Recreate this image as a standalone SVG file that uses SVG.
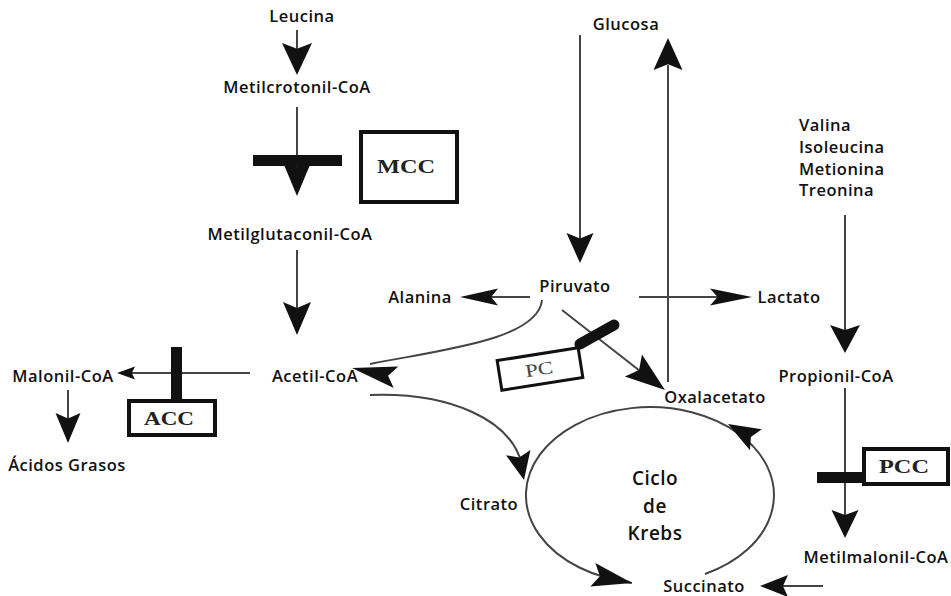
<svg xmlns="http://www.w3.org/2000/svg" width="951" height="596" viewBox="0 0 951 596">
<style>
.t{font-family:"Open Sans","Noto Sans",sans-serif;font-size:16.5px;font-weight:600;letter-spacing:0.5px;fill:#111}
.m{text-anchor:middle}
.k{font-size:19px}
.e{font-family:"Liberation Serif","Times New Roman",serif;font-weight:bold;font-size:18px;fill:#222;text-anchor:middle}
.pc{font-family:"Liberation Serif",serif;font-size:18px;fill:#444;text-anchor:middle}
.ln{stroke:#444;stroke-width:2;fill:none}
.bx{fill:#fff;stroke:#111;stroke-width:4}
.bar{fill:#111}
.ah{fill:#111}
</style>
<defs>
<path id="ah" d="M0,0 L-1,-0.5 L-0.82,0 L-1,0.5 Z"/>
</defs>
<rect width="951" height="596" fill="#fff"/>
<g id="connectors">
<line class="ln" x1="297" y1="30" x2="297" y2="55"/>
<line class="ln" x1="297" y1="107" x2="297" y2="172"/>
<line class="ln" x1="297" y1="250" x2="297" y2="310"/>
<line class="ln" x1="250" y1="373" x2="125" y2="373"/>
<line class="ln" x1="68" y1="390" x2="68" y2="420"/>
<line class="ln" x1="580" y1="35" x2="580" y2="240"/>
<line class="ln" x1="668" y1="382" x2="668" y2="65"/>
<line class="ln" x1="530" y1="297" x2="490" y2="297"/>
<line class="ln" x1="639" y1="297" x2="720" y2="297"/>
<line class="ln" x1="562" y1="310" x2="640" y2="371"/>
<line class="ln" x1="845" y1="215" x2="845" y2="330"/>
<line class="ln" x1="845" y1="388" x2="845" y2="515"/>
<line class="ln" x1="823" y1="586" x2="780" y2="586"/>
<path class="ln" d="M542,300 C538,340 440,350 370,364"/>
<path class="ln" d="M370,395 C450,392 512,420 522,465"/>
<path class="ln" d="M630,582 A124,88 0 1 1 705,574"/>
<line class="ln" x1="610" y1="580" x2="632" y2="583"/>
<use href="#ah" class="ah" transform="translate(297,75) rotate(90) scale(32,30)"/>
<use href="#ah" class="ah" transform="translate(297,196) rotate(90) scale(36,30)"/>
<use href="#ah" class="ah" transform="translate(297,335) rotate(90) scale(33,28)"/>
<use href="#ah" class="ah" transform="translate(117,373) rotate(180) scale(18,13)"/>
<use href="#ah" class="ah" transform="translate(68,443) rotate(90) scale(30,25)"/>
<use href="#ah" class="ah" transform="translate(580,263) rotate(90) scale(30,27)"/>
<use href="#ah" class="ah" transform="translate(668,38) rotate(-90) scale(32,29)"/>
<use href="#ah" class="ah" transform="translate(460,297) rotate(180) scale(38,17)"/>
<use href="#ah" class="ah" transform="translate(752,297) scale(42,17)"/>
<use href="#ah" class="ah" transform="translate(352,368) rotate(-168) scale(45,22)"/>
<use href="#ah" class="ah" transform="translate(524,480) rotate(78) scale(28,25)"/>
<use href="#ah" class="ah" transform="translate(665,390) rotate(37.8) scale(40,28)"/>
<use href="#ah" class="ah" transform="translate(728,424) rotate(209.4) scale(32,24)"/>
<use href="#ah" class="ah" transform="translate(632,583) rotate(12) scale(40,24)"/>
<use href="#ah" class="ah" transform="translate(845,353) rotate(90) scale(28,30)"/>
<use href="#ah" class="ah" transform="translate(845,538) rotate(90) scale(28,27)"/>
<use href="#ah" class="ah" transform="translate(760,586) rotate(180) scale(28,22)"/>
</g>
<g id="leucina"><text class="t m" x="302" y="22">Leucina</text></g>
<g id="metilcrotonil"><text class="t m" x="297" y="93">Metilcrotonil-CoA</text></g>
<g id="mcc">
<rect class="bar" x="253" y="155" width="89" height="11"/>
<rect class="bx" x="361" y="132" width="96" height="70"/>
<text class="e" x="406" y="173" textLength="58" lengthAdjust="spacingAndGlyphs">MCC</text>
</g>
<g id="metilglutaconil"><text class="t m" x="290" y="240">Metilglutaconil-CoA</text></g>
<g id="acetil"><text class="t m" x="315" y="382">Acetil-CoA</text></g>
<g id="malonil"><text class="t m" x="63" y="382">Malonil-CoA</text></g>
<g id="acc">
<rect class="bar" x="171" y="347" width="11" height="52"/>
<rect class="bx" x="129" y="401" width="86" height="34"/>
<text class="e" x="169" y="425" textLength="50" lengthAdjust="spacingAndGlyphs">ACC</text>
</g>
<g id="acidos"><text class="t m" x="67" y="471">Ácidos Grasos</text></g>
<g id="glucosa"><text class="t m" x="626" y="30">Glucosa</text></g>
<g id="piruvato"><text class="t m" x="575" y="292">Piruvato</text></g>
<g id="alanina"><text class="t m" x="420" y="303">Alanina</text></g>
<g id="lactato"><text class="t m" x="789" y="303">Lactato</text></g>
<g id="pc">
<line x1="580" y1="344" x2="614" y2="325" stroke="#111" stroke-width="11" stroke-linecap="round"/>
<rect x="-41" y="-15" width="82" height="30" fill="#fff" stroke="#111" stroke-width="3" transform="translate(540,369) rotate(-9)"/>
<text class="pc" transform="translate(540,375) rotate(-9)" textLength="28" lengthAdjust="spacingAndGlyphs">PC</text>
</g>
<g id="oxalacetato"><text class="t m" x="715" y="403">Oxalacetato</text></g>
<g id="krebs">
<text class="t m k" x="655" y="485">Ciclo</text>
<text class="t m k" x="655" y="513">de</text>
<text class="t m k" x="655" y="540">Krebs</text>
</g>
<g id="citrato"><text class="t m" x="489" y="510">Citrato</text></g>
<g id="succinato"><text class="t m" x="704" y="592">Succinato</text></g>
<g id="aminoacidos">
<text class="t" x="799" y="131">Valina</text>
<text class="t" x="799" y="153">Isoleucina</text>
<text class="t" x="799" y="175">Metionina</text>
<text class="t" x="799" y="196">Treonina</text>
</g>
<g id="propionil"><text class="t m" x="836" y="382">Propionil-CoA</text></g>
<g id="pcc">
<rect class="bar" x="817" y="472" width="50" height="11"/>
<rect class="bx" x="864" y="449" width="84" height="35"/>
<text class="e" x="904" y="473" textLength="50" lengthAdjust="spacingAndGlyphs">PCC</text>
</g>
<g id="metilmalonil"><text class="t m" x="876" y="563">Metilmalonil-CoA</text></g>
</svg>
